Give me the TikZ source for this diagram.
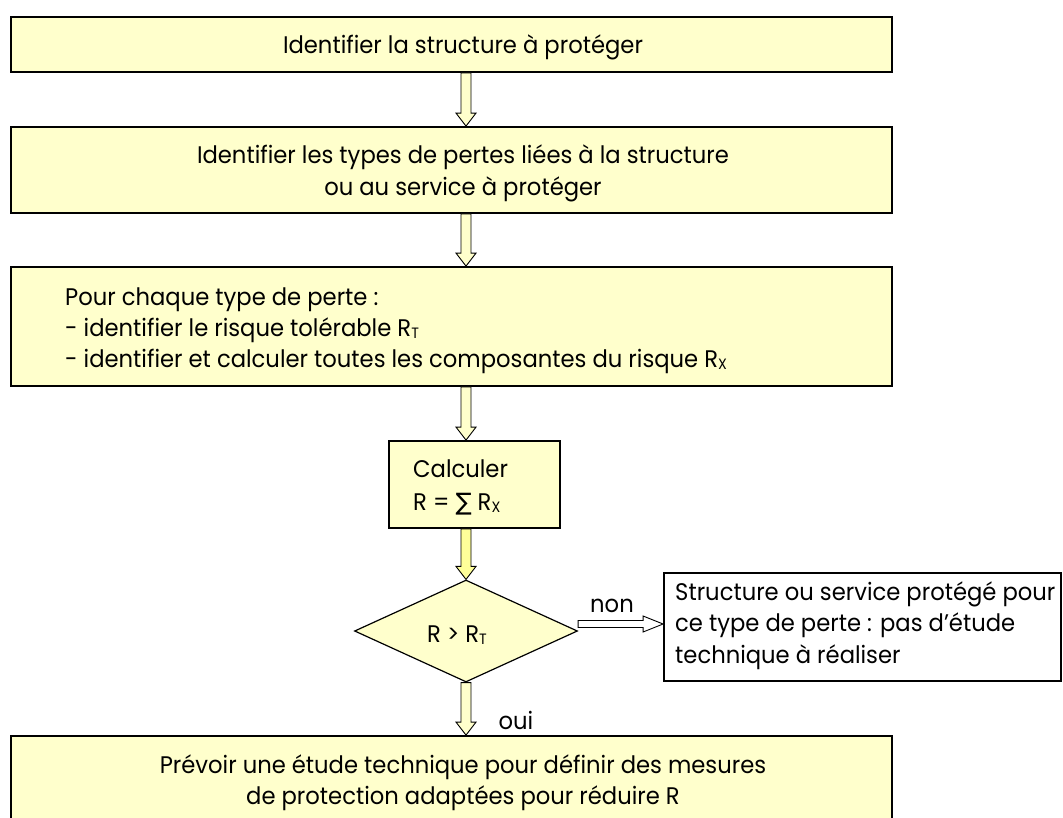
\documentclass[tikz,border=0pt]{standalone}
\usepackage{fontspec}
\setmainfont{Poppins}[FakeStretch=0.945]
\newfontfamily\symf{DejaVu Sans}
\usetikzlibrary{shapes.geometric,calc}
\definecolor{boxyellow}{HTML}{FFFFCC}
\definecolor{arrowyellow}{HTML}{FFFF99}
\newcommand\mysub[1]{\raisebox{-2pt}{\fontsize{15}{15}\selectfont #1}}
\newcommand\vblock[3][boxyellow]{%
  \filldraw[fill=#1,draw=black,line width=0.9pt,line join=miter] let \p1=(#2),\p2=(#3) in
  (\x1-5pt,\y1) -- (\x1-5pt,\y2+13pt) -- (\x1-10pt,\y2+13pt) -- (\x1,\y2) --
  (\x1+10pt,\y2+13pt) -- (\x1+5pt,\y2+13pt) -- (\x1+5pt,\y1) -- cycle;}
\newcommand\hblock[3][white]{%
  \filldraw[fill=#1,draw=black,line width=0.9pt,line join=miter] let \p1=(#2),\p2=(#3) in
  (\x1,\y1+3.5pt) -- (\x2-20pt,\y1+3.5pt) -- (\x2-20pt,\y1+8pt) -- (\x2,\y1) --
  (\x2-20pt,\y1-8pt) -- (\x2-20pt,\y1-3.5pt) -- (\x1,\y1-3.5pt) -- cycle;}
\tikzset{
  ybox/.style={draw=black,line width=1.8pt,fill=boxyellow,inner sep=0pt},
  wbox/.style={draw=black,line width=1.8pt,fill=white,inner sep=0pt},
  txt/.style={inner sep=0pt,font=\fontsize{24}{31}\selectfont},
}
\begin{document}
\begin{tikzpicture}[x=1pt,y=-1pt]
\useasboundingbox (0,0) rectangle (1063,817);
% boxes
\node[ybox,minimum width=881,minimum height=55] (b1) at (451.5,44.5) {};
\node[ybox,minimum width=881,minimum height=86] (b2) at (451.5,170) {};
\node[ybox,minimum width=881,minimum height=119] (b3) at (451.5,326.5) {};
\node[ybox,minimum width=171,minimum height=87] (b4) at (474.5,484.5) {};
\node[diamond,draw=black,line width=1.2pt,fill=boxyellow,inner sep=0pt,aspect=2.19,
      minimum width=223,minimum height=102] (d) at (466,631) {};
\node[wbox,minimum width=397,minimum height=108] (b5) at (862.5,627) {};
\node[ybox,minimum width=881,minimum height=95] (b6) at (451.5,783.5) {};
% texts
\node[txt] (t1) at (463,47) {Identifier la structure à protéger};
\node[txt,align=center,font=\fontsize{24}{32}\selectfont] (t2) at (463,173) {Identifier les types de pertes liées à la structure\\ou au service à protéger};
\node[txt,align=left,anchor=west] (t3) at (65,331) {Pour chaque type de perte :\\- identifier le risque tolérable R\mysub{T}\\- identifier et calculer toutes les composantes du risque R\mysub{X}};
\node[txt,align=left,anchor=west,font=\fontsize{24}{33}\selectfont] (t4) at (413,487) {Calculer\\R = {\symf ∑} R\mysub{X}};
\node[txt] (t5) at (457,635.5) {R > R\mysub{T}};
\node[txt,align=left,anchor=west,font=\fontsize{24}{31.5}\selectfont] (t6) at (675,625.6) {Structure ou service protégé pour\\ce type de perte : pas d’étude\\technique à réaliser};
\node[txt,align=center] (t7) at (463,782.6) {Prévoir une étude technique pour définir des mesures\\de protection adaptées pour réduire R};
\node[txt] (lnon) at (612,605.5) {non};
\node[txt] (loui) at (516,720) {oui};
% arrows
\vblock{b1.south -| d.north}{b2.north -| d.north}
\vblock{b2.south -| d.north}{b3.north -| d.north}
\vblock{b3.south -| d.north}{b4.north -| d.north}
\vblock[arrowyellow]{b4.south -| d.north}{d.north}
\vblock{d.south}{b6.north -| d.south}
\coordinate (nonstart) at ($(d.east)+(0,-7)$);
\hblock{nonstart}{b5.west |- nonstart}
\end{tikzpicture}
\end{document}
